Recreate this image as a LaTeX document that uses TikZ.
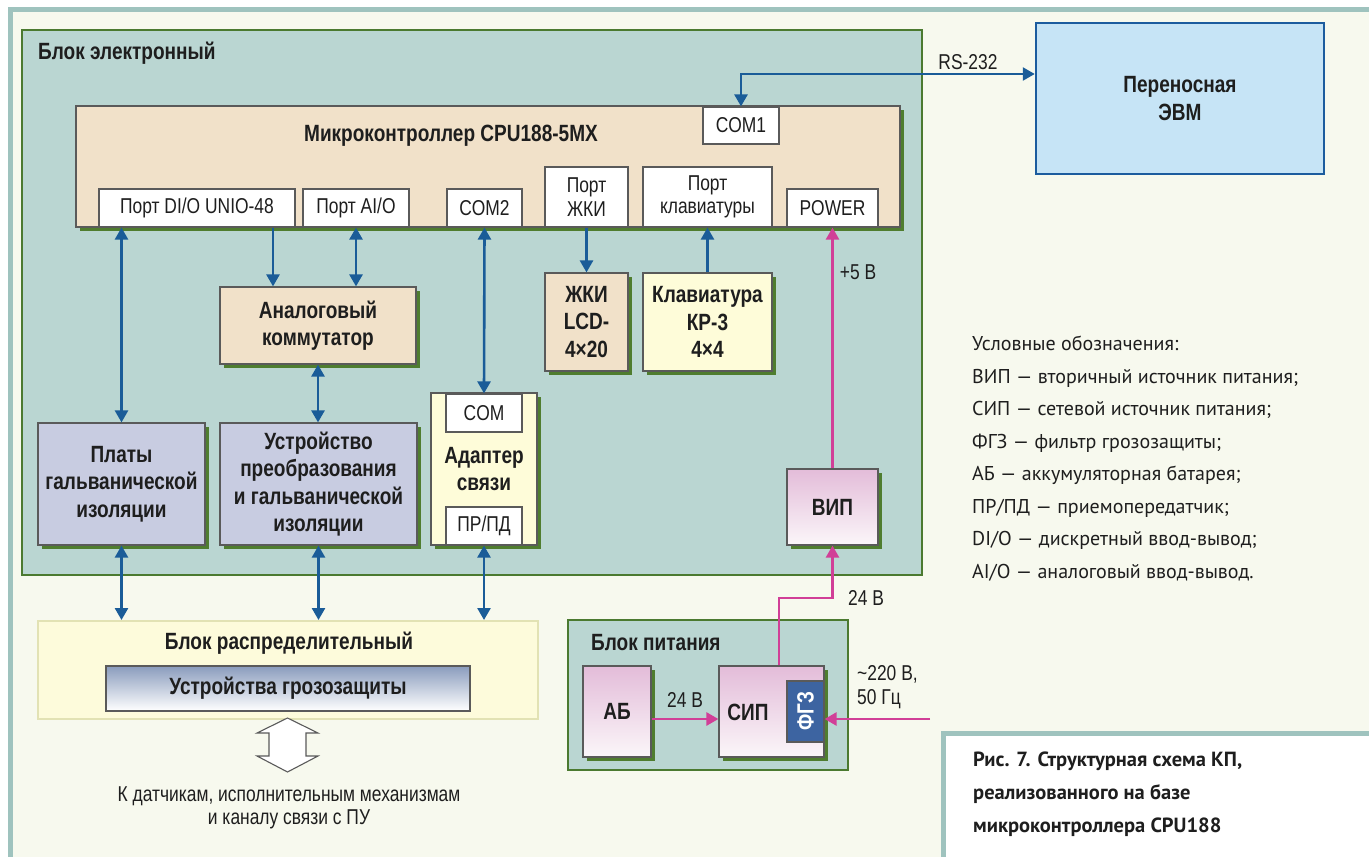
\documentclass[tikz,border=0pt]{standalone}
\usepackage{fontspec}
\usetikzlibrary{arrows.meta,shadows}
\newfontfamily\cnd[FakeStretch=0.81]{Liberation Sans}
\newfontfamily\pts{PT Sans}
\definecolor{frameT}{HTML}{9FC3BE}
\definecolor{cream}{HTML}{F7F9EE}
\definecolor{tealF}{HTML}{BAD6D2}
\definecolor{greenB}{HTML}{4B7A30}
\definecolor{shG}{HTML}{4F7D2F}
\definecolor{beige}{HTML}{F1E1C9}
\definecolor{lyel}{HTML}{FEFCD9}
\definecolor{brfill}{HTML}{FDFBDB}
\definecolor{brdraw}{HTML}{E2E2B4}
\definecolor{lav}{HTML}{C8CCE1}
\definecolor{bgrey}{HTML}{5A5A5A}
\definecolor{evmF}{HTML}{C6E4F6}
\definecolor{evmB}{HTML}{1C5C9E}
\definecolor{blueA}{HTML}{1A5C98}
\definecolor{pinkA}{HTML}{D13F97}
\definecolor{pinkT}{HTML}{E3BCD9}
\definecolor{pinkB}{HTML}{FBF6F9}
\definecolor{ugT}{HTML}{8A9CBD}
\definecolor{fgzF}{HTML}{3D64A1}
\definecolor{txt}{HTML}{1E1E1E}
\tikzset{
  sz/.style 2 args={minimum width=#1, minimum height=#2},
  blk/.style={draw=greenB, fill=tealF, line width=2pt, inner sep=0pt},
  box/.style={draw=bgrey, line width=1.2pt, inner sep=0pt, align=center, text=txt},
  shd/.style={general shadow={fill=shG, shadow xshift=4pt, shadow yshift=-4pt}},
  reg/.style={font=\cnd\fontsize{21.5}{23.3}\selectfont, text=txt, align=center},
  bld/.style={font=\cnd\bfseries\fontsize{23.5}{27.5}\selectfont, text=txt, align=center},
  port/.style={box, fill=white, reg},
  pinkbox/.style={box, shd, top color=pinkT, bottom color=pinkB, bld},
  barr/.style={draw=blueA, line width=2.6pt},
  parr/.style={draw=pinkA, line width=2.6pt},
  legend/.style={font=\pts\fontsize{20}{32.5}\selectfont, text=txt, align=left, inner sep=0pt},
  capt/.style={font=\pts\bfseries\fontsize{20.5}{33}\selectfont, text=txt, align=left, inner sep=0pt}
}
\begin{document}
\begin{tikzpicture}[x=1pt,y=-1pt, >={Triangle[length=12pt,width=13pt]}]
\useasboundingbox (0,0) rectangle (1369,857);
\fill[white] (0,0) rectangle (1369,857);
\fill[frameT] (8,7) rectangle (1369,857);
\fill[cream] (13,12) rectangle (1369,857);
\fill[frameT] (941,731) rectangle (1369,857);
\fill[white] (946,736) rectangle (1369,857);

% electronic block
\node[blk, sz={900}{545}] (E) at (472,302.5) {};
\node[bld, anchor=west, inner sep=0pt] (Etitle) at (38,53) {Блок электронный};

% microcontroller
\node[box, shd, fill=beige, sz={824}{121}] (MC) at (488,166.5) {};
\node[bld, inner sep=0pt] (MCtitle) at (451,136) {Микроконтроллер CPU188-5MX};
\node[port, sz={196}{38}] (pDIO) at (197,208) {Порт DI/O UNIO-48};
\node[port, sz={106}{38}] (pAIO) at (356,208) {Порт AI/O};
\node[port, sz={75}{38}] (COM2) at (484.5,208) {COM2};
\node[port, sz={83}{60}] (pLCD) at (586.5,197) {Порт\\ЖКИ};
\node[port, sz={129}{60}] (pKB) at (707.5,197) {Порт\\клавиатуры};
\node[port, sz={91}{38}] (POWER) at (832.5,208) {POWER};
\node[port, sz={76}{37}] (COM1) at (741,125.5) {COM1};

% portable computer
\node[draw=evmB, fill=evmF, line width=2.5pt, sz={288}{151}, bld] (EVM) at (1180,98.5) {Переносная\\ЭВМ};

% LCD, keyboard
\node[box, shd, fill=beige, bld, sz={83}{98}] (LCD) at (586.5,322) {ЖКИ\\LCD-\\4×20};
\node[box, shd, fill=lyel, bld, sz={129}{98}] (KB) at (707.5,322) {Клавиатура\\КР-3\\4×4};

% analog switch
\node[box, shd, fill=beige, bld, sz={196}{77}] (Komm) at (318,325.5) {Аналоговый\\коммутатор};

% isolation
\node[box, shd, fill=lav, bld, sz={167}{122}] (Platy) at (121.5,484) {Платы\\гальванической\\изоляции};
\node[box, shd, fill=lav, bld, sz={197}{122}] (Ustr) at (318.5,484) {Устройство\\преобразования\\и гальванической\\изоляции};

% adapter
\node[box, shd, fill=lyel, bld, sz={106}{152}] (Adapt) at (484,469) {Адаптер\\связи};
\node[port, sz={76}{38}] (COMa) at (484,413) {COM};
\node[port, sz={76}{38}] (PRPD) at (484,526) {ПР/ПД};

% VIP
\node[pinkbox, sz={91}{76}] (VIP) at (832.5,507) {ВИП};

% distribution block
\node[draw=brdraw, fill=brfill, line width=2pt, sz={500}{98}] (BR) at (288,670) {};
\node[bld, inner sep=0pt] (BRtitle) at (289,643) {Блок распределительный};
\node[box, top color=ugT, bottom color=white, bld, sz={364}{45}] (UG) at (288,688.5) {Устройства грозозащиты};

% power block
\node[blk, sz={280}{150}] (BP) at (708,695) {};
\node[bld, anchor=west, inner sep=0pt] (BPtitle) at (591,643) {Блок питания};
\node[pinkbox, sz={68}{91}] (AB) at (617,711.5) {АБ};
\node[box, shd, top color=pinkT, bottom color=pinkB, sz={105}{91}] (SIP) at (771.5,711.5) {};
\node[bld, inner sep=0pt] (SIPt) at (748,712) {СИП};
\node[box, fill=fgzF, rotate=90, sz={61}{37}, font=\cnd\bfseries\fontsize{23.5}{27.5}\selectfont, text=white] (FGZ) at (805.5,711.5) {ФГЗ};

% hollow double arrow
\draw[draw=bgrey, fill=white, line width=1.1pt] (287.5,718) -- (318,733) -- (306,733) -- (306,756) -- (318,756) -- (287.5,772) -- (257,756) -- (269,756) -- (269,733) -- (257,733) -- cycle;
\node[reg] (Ktext) at (289,808) {К датчикам, исполнительным механизмам\\и каналу связи с ПУ};

% blue connectors
\coordinate (rsc) at (741,74);
\draw[barr, <->] (COM1.north) -- (rsc) -- (EVM.west |- rsc);
\node[reg, anchor=base] (RS) at (968,69) {RS-232};
\draw[barr, <->] (pDIO.south -| Platy.north) -- (Platy.north);
\coordinate (x273) at (273,0);
\draw[barr, ->] (pDIO.south -| x273) -- (Komm.north -| x273);
\draw[barr, <->] (pAIO.south) -- (Komm.north -| pAIO.south);
\draw[barr, <->] (Komm.south) -- (Ustr.north -| Komm.south);
\draw[barr, <->] (COM2.south) -- (COMa.north);
\draw[barr, ->] (pLCD.south) -- (LCD.north);
\draw[barr, ->] (KB.north) -- (pKB.south);
\draw[barr, <->] (Platy.south) -- (BR.north -| Platy.south);
\draw[barr, <->] (Ustr.south) -- (BR.north -| Ustr.south);
\draw[barr, <->] (PRPD.south) -- (BR.north -| PRPD.south);

% pink connectors
\draw[parr, ->] (VIP.north) -- (POWER.south);
\node[reg] (p5) at (858,272) {+5 В};
\coordinate (k24) at (779,598);
\draw[parr, ->] (SIP.north -| k24) -- (k24) -| (VIP.south);
\node[reg] (v24a) at (866,598) {24 В};
\coordinate (pin) at (930,719);
\draw[parr, ->] (AB.east |- pin) -- (SIP.west |- pin);
\node[reg] (v24b) at (685,700) {24 В};
\draw[parr, ->] (pin) -- (FGZ.south |- pin);
\node[reg, align=left, anchor=west, inner sep=0pt] (v220) at (857,687) {\textasciitilde220 В,\\50 Гц};

% legend
\node[legend, anchor=north west] (leg) at (972,336) {Условные обозначения:\\ВИП — вторичный источник питания;\\СИП — сетевой источник питания;\\ФГЗ — фильтр грозозащиты;\\АБ — аккумуляторная батарея;\\ПР/ПД — приемопередатчик;\\DI/O — дискретный ввод-вывод;\\AI/O — аналоговый ввод-вывод.};

% caption
\node[capt, anchor=north west] (cap) at (973,752) {Рис. 7. Структурная схема КП,\\реализованного на базе\\микроконтроллера CPU188};
\end{tikzpicture}
\end{document}
